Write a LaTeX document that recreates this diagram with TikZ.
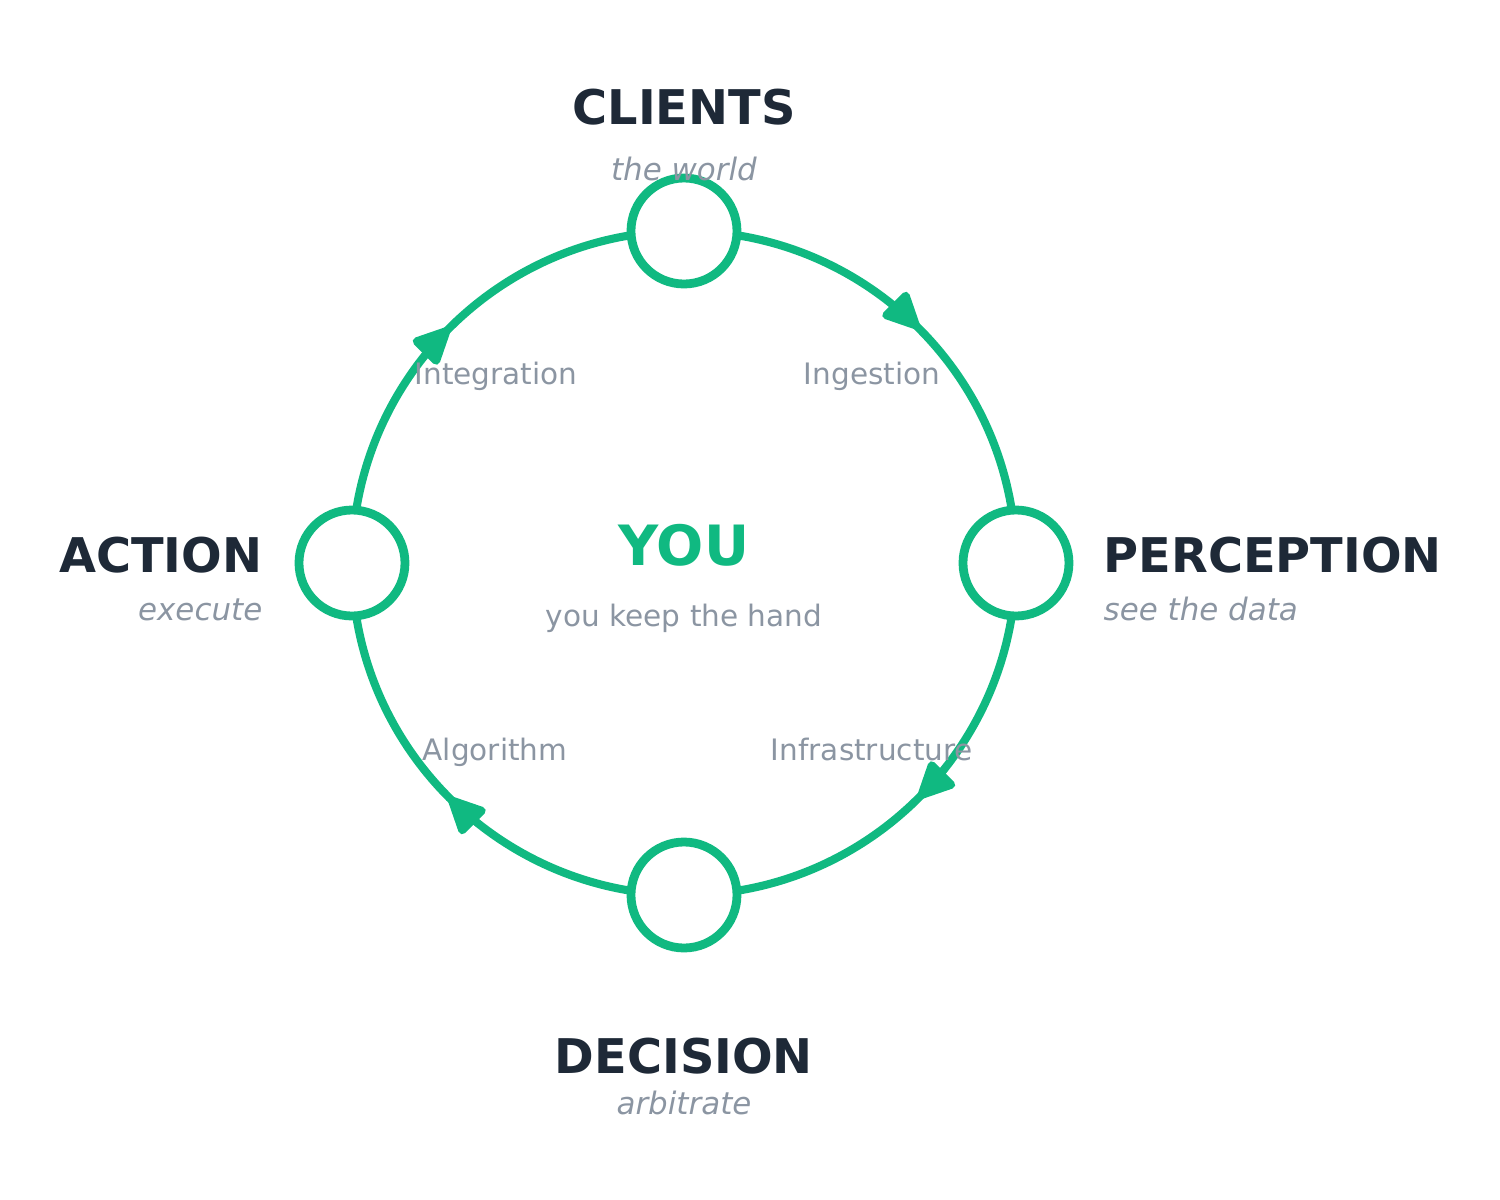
\documentclass[tikz,border=0pt]{standalone}
\usepackage{fontspec}
\setmainfont{DejaVu Sans}
\usetikzlibrary{arrows.meta, positioning, decorations.markings}
\definecolor{loopgreen}{HTML}{10B981}
\definecolor{loopink}{HTML}{1E2937}
\definecolor{loopgray}{HTML}{8B95A2}

\begin{document}
\begin{tikzpicture}[
  station/.style={circle, draw=loopgreen, fill=white, line width=2.5pt,
    minimum size=1.06cm, inner sep=0pt},
  ring/.style={loopgreen, line width=2.3pt,
    postaction={decorate, decoration={markings,
      mark=at position 0.5 with {\arrow{Triangle[length=0.42cm, width=0.38cm, round]}}}}},
  title/.style={font=\fontsize{13.6}{16}\selectfont\bfseries, text=loopink, inner sep=0pt},
  subtitle/.style={font=\fontsize{8.8}{10}\selectfont\itshape, text=loopgray, inner sep=0pt},
  flow/.style={font=\fontsize{8.4}{10}\selectfont, text=loopgray, inner sep=0pt},
]
  \useasboundingbox (-6.84,-6.37) rectangle (8.16,5.63);
  \def\R{3.32}

  % stations on the loop
  \coordinate (hub) at (0,0);
  \foreach \ang/\nm in {90/clients, 0/perception, -90/decision, 180/action}
    \coordinate (\nm-pt) at (\ang:\R);

  % the loop, clockwise
  \foreach \src/\ang in {clients/90, perception/0, decision/-90, action/180}
    \draw[ring] (\src-pt) arc[start angle=\ang, delta angle=-90, radius=\R];

  \foreach \nm in {clients, perception, decision, action}
    \node[station] (\nm) at (\nm-pt) {};

  % titles
  \node[title, above=1.07cm of clients.center, anchor=base] (clients-t) {CLIENTS};
  \node[subtitle, above=0.51cm of clients.center, anchor=base] (clients-s) {the world};
  \node[title, below right=0.09cm and 0.87cm of perception.center, anchor=base west] (perception-t) {PERCEPTION};
  \node[subtitle, below right=0.57cm and 0.87cm of perception.center, anchor=base west] (perception-s) {see the data};
  \node[title, below=1.78cm of decision.center, anchor=base] (decision-t) {DECISION};
  \node[subtitle, below=2.19cm of decision.center, anchor=base] (decision-s) {arbitrate};
  \node[title, below left=0.09cm and 0.89cm of action.center, anchor=base east] (action-t) {ACTION};
  \node[subtitle, below left=0.57cm and 0.89cm of action.center, anchor=base east] (action-s) {execute};

  % centre
  \node[title, font=\fontsize{15.8}{18}\selectfont\bfseries, text=loopgreen,
    below=0.02cm of hub, anchor=base] (you) {YOU};
  \node[flow, below=0.63cm of hub, anchor=base] (you-s) {you keep the hand};

  % stages between stations
  \node[flow, above right=1.79cm and 1.88cm of hub, anchor=base] (ingestion) {Ingestion};
  \node[flow, below right=1.97cm and 1.88cm of hub, anchor=base] (infra) {Infrastructure};
  \node[flow, below left=1.97cm and 1.89cm of hub, anchor=base] (algo) {Algorithm};
  \node[flow, above left=1.79cm and 1.88cm of hub, anchor=base] (integration) {Integration};
\end{tikzpicture}
\end{document}
